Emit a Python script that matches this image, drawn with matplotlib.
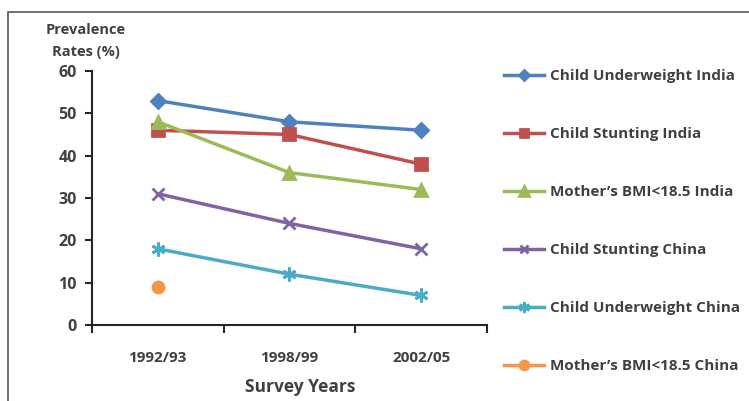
import numpy as np
import matplotlib
matplotlib.use("Agg")
import matplotlib.pyplot as plt
from matplotlib.patches import Rectangle

plt.rcParams['font.family'] = ['Open Sans', 'DejaVu Sans']
plt.rcParams['font.weight'] = 'bold'

years = ["1992/93", "1998/99", "2002/05"]
uw_india = [53, 48, 46]
st_india = [46, 45, 38]
bmi_india = [48, 36, 32]
st_china = [31, 24, 18]
uw_china = [18, 12, 7]
bmi_china = [9, np.nan, np.nan]

series = [
    ("Child Underweight India", uw_india, "#4F81BD", "D", 7),
    ("Child Stunting India", st_india, "#C0504D", "s", 8),
    ("Mother\u2019s BMI<18.5 India", bmi_india, "#9BBB59", "^", 9),
    ("Child Stunting China", st_china, "#8064A2", "x", 8),
    ("Child Underweight China", uw_china, "#4BACC6", (6, 2, 0), 10),
    ("Mother\u2019s BMI<18.5 China", bmi_china, "#F79646", "o", 8),
]

txt = "#404040"
fig = plt.figure(figsize=(7.49, 4.01), dpi=100)
ax = fig.add_axes([0.1228, 0.1895, 0.5272, 0.6335])

x = np.arange(len(years))
handles = []
for name, vals, col, mk, ms in series:
    h, = ax.plot(x, vals, color=col, lw=2.5, marker=mk, markersize=ms,
                 markeredgecolor=col, markerfacecolor=col, mew=2, label=name)
    handles.append(h)

ax.set_xlim(-0.5, 2.5)
ax.set_ylim(0, 60)
ax.set_yticks(range(0, 61, 10))
ax.set_xticks([-0.5, 0.5, 1.5, 2.5])
ax.set_xticklabels([])
for i, yr in enumerate(years):
    ax.text(x[i], -0.13, yr, transform=ax.get_xaxis_transform(), ha='center',
            va='center', fontsize=11, fontweight='bold', color=txt)
ax.tick_params(axis='y', direction='out', length=5, width=1.5, colors='#262626',
               labelsize=11.5, labelcolor=txt, pad=6)
ax.tick_params(axis='x', direction='out', length=6, width=1.5, colors='#262626')
for s in ['top', 'right']:
    ax.spines[s].set_visible(False)
for s in ['left', 'bottom']:
    ax.spines[s].set_linewidth(1.5)
    ax.spines[s].set_color('#262626')
for lab in ax.get_yticklabels():
    lab.set_fontweight('bold')

ax.text(-0.015, 1.118, "Prevalence\nRates (%)", transform=ax.transAxes, ha='center',
        va='center', fontsize=10.5, fontweight='bold', color=txt, linespacing=1.75)
ax.text(0.527, -0.245, "Survey Years", transform=ax.transAxes, ha='center',
        va='center', fontsize=12.5, fontweight='bold', color=txt)

fig.legend(handles=handles, loc='upper left', bbox_to_anchor=(0.655, 0.862),
           frameon=False, labelspacing=2.88, handlelength=2.6, markerscale=0.8,
           handletextpad=0.4, labelcolor=txt, prop={'weight': 'bold', 'size': 11})

fig.patches.append(Rectangle((0.011, -0.1), 1.2, 1.07, transform=fig.transFigure,
                             fill=False, edgecolor='#595959', lw=1.2))

fig.savefig("out.png", dpi=100)
